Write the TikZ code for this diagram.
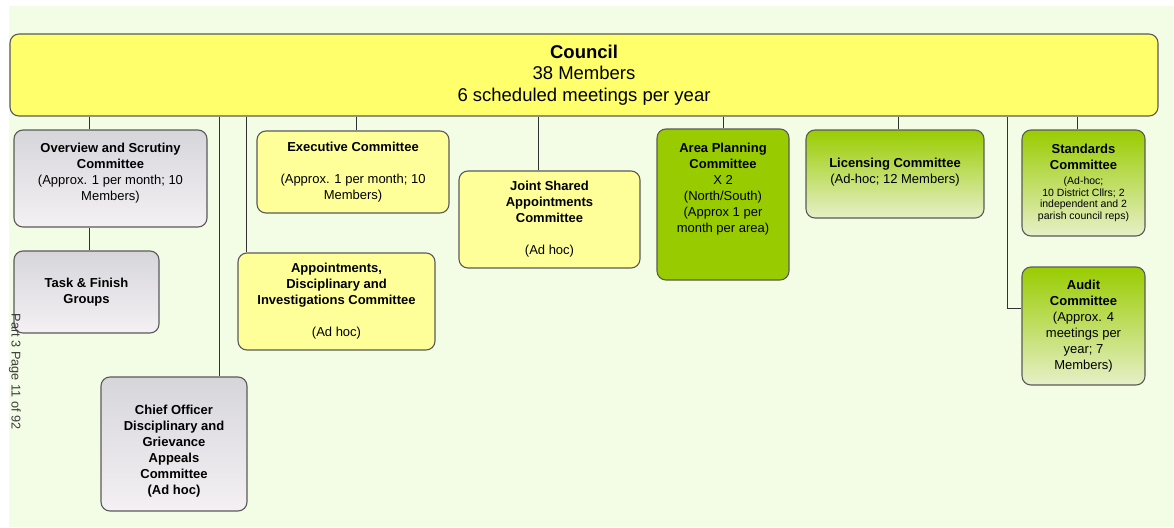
\documentclass[tikz,border=0pt]{standalone}
\usepackage{fontspec}
\setmainfont{Liberation Sans}
\usetikzlibrary{calc}

\definecolor{bgcol}{RGB}{243,252,228}
\definecolor{councilyellow}{RGB}{255,255,108}
\definecolor{paleyellow}{RGB}{255,255,153}
\definecolor{greytop}{RGB}{214,214,218}
\definecolor{greybot}{RGB}{244,240,244}
\definecolor{leafgreen}{RGB}{153,204,0}
\definecolor{palegreen}{RGB}{230,240,200}
\definecolor{boxline}{RGB}{90,90,90}
\definecolor{linkline}{RGB}{50,50,50}
\definecolor{pagegray}{RGB}{60,60,60}

\newcommand\stdline[1]{{\fontsize{10.5}{11.7}\selectfont #1}}

\begin{document}
\begin{tikzpicture}[x=1pt,y=-1pt,
  box/.style={draw=boxline, line width=1.1pt, rounded corners=9pt, align=center, inner sep=0pt,
    font=\fontsize{13}{16}\selectfont},
  greybox/.style={box, top color=greytop, bottom color=greybot},
  yellowbox/.style={box, fill=paleyellow},
  greenbox/.style={box, top color=leafgreen, bottom color=palegreen},
  solidgreen/.style={box, fill=leafgreen},
  link/.style={draw=linkline, line width=0.9pt}]

\useasboundingbox (0,0) rectangle (1174,527);
\fill[bgcol] (9,6) rectangle (1174,527);

\node[box, fill=councilyellow, minimum width=1148pt, minimum height=82pt, font=\fontsize{18.5}{21.5}\selectfont] (council) at (584,75) {\textbf{Council}\\38 Members\\6 scheduled meetings per year};

\node[greybox, minimum width=193pt, minimum height=97pt] (scrutiny) at (110.5,178.5) {\textbf{Overview and Scrutiny}\\\textbf{Committee}\\(Approx. 1 per month; 10\\Members)\\[-3pt]\mbox{}};
\node[greybox, minimum width=145pt, minimum height=82pt] (taskfinish) at (86.5,292) {\textbf{Task \& Finish}\\\textbf{Groups}};
\node[greybox, minimum width=146pt, minimum height=134pt] (chiefofficer) at (174,444) {\rule{0pt}{24pt}\textbf{Chief Officer}\\\textbf{Disciplinary and}\\\textbf{Grievance}\\\textbf{Appeals}\\\textbf{Committee}\\\textbf{(Ad hoc)}};

\node[yellowbox, minimum width=192pt, minimum height=82pt] (executive) at (353,172) {\textbf{Executive Committee}\\[16pt](Approx. 1 per month; 10\\Members)};
\node[yellowbox, minimum width=197pt, minimum height=97pt] (appointments) at (336.5,301.5) {\textbf{Appointments,}\\\textbf{Disciplinary and}\\\textbf{Investigations Committee}\\[16pt](Ad hoc)};
\node[yellowbox, minimum width=181pt, minimum height=97pt] (jointshared) at (549.5,219.5) {\textbf{Joint Shared}\\\textbf{Appointments}\\\textbf{Committee}\\[16pt](Ad hoc)};

\node[solidgreen, minimum width=132pt, minimum height=151pt] (areaplanning) at (723,204.5) {\textbf{Area Planning}\\\textbf{Committee}\\X 2\\(North/South)\\(Approx 1 per\\month per area)\\[1pt]\mbox{}\\[1pt]\mbox{}};
\node[greenbox, minimum width=178pt, minimum height=88pt] (licensing) at (895,174) {\textbf{Licensing Committee}\\(Ad-hoc; 12 Members)\\[-10pt]\mbox{}};
\node[greenbox, minimum width=123pt, minimum height=106pt] (standards) at (1083.5,183) {\textbf{Standards}\\\textbf{Committee}\\[-1pt]\stdline{(Ad-hoc;}\\[-4.3pt]\stdline{10 District Cllrs; 2}\\[-4.3pt]\stdline{independent and 2}\\[-4.3pt]\stdline{parish council reps)}};
\node[greenbox, minimum width=123pt, minimum height=118pt] (audit) at (1083.5,326) {\textbf{Audit}\\\textbf{Committee}\\(Approx. 4\\meetings per\\year; 7\\Members)};

\node[rotate=-90, text=pagegray, font=\fontsize{12.7}{14}\selectfont] (pageno) at (15,371.5) {Part 3 Page 11 of 92};

\draw[link] ([xshift=-21.5pt]scrutiny.north) -- ([xshift=-21.5pt]scrutiny.north |- council.south);
\draw[link] ([xshift=-21.5pt]scrutiny.south) -- ([xshift=-21.5pt]scrutiny.south |- taskfinish.north);
\draw[link] ([xshift=45pt]chiefofficer.north) -- ([xshift=45pt]chiefofficer.north |- council.south);
\draw[link] ([xshift=-90.5pt]appointments.north) -- ([xshift=-90.5pt]appointments.north |- council.south);
\draw[link] ([xshift=3pt]executive.north) -- ([xshift=3pt]executive.north |- council.south);
\draw[link] ([xshift=-11.5pt]jointshared.north) -- ([xshift=-11.5pt]jointshared.north |- council.south);
\draw[link] (areaplanning.north) -- (areaplanning.north |- council.south);
\draw[link] ([xshift=3pt]licensing.north) -- ([xshift=3pt]licensing.north |- council.south);
\draw[link] ([xshift=-6.5pt]standards.north) -- ([xshift=-6.5pt]standards.north |- council.south);
\draw[link] ([yshift=18pt]audit.west) -| ([xshift=-14pt]audit.west |- council.south);

\end{tikzpicture}
\end{document}
